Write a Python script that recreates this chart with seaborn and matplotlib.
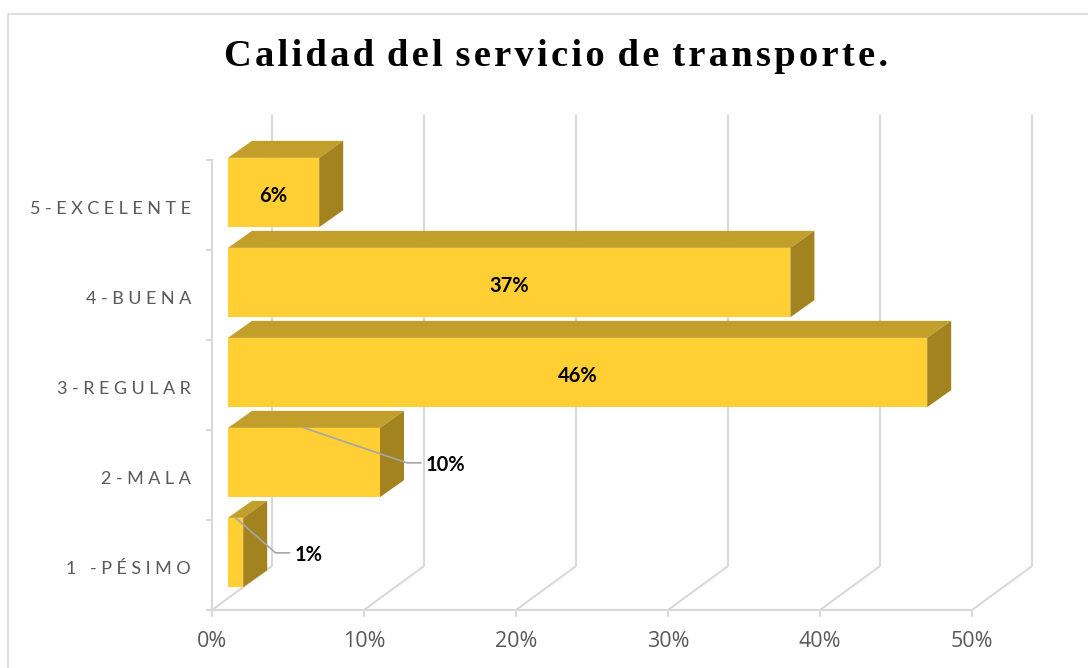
import matplotlib
matplotlib.use('Agg')
import matplotlib.pyplot as plt
from matplotlib.lines import Line2D
from matplotlib.patches import Polygon
from matplotlib.transforms import Affine2D, IdentityTransform
import pandas as pd
import seaborn as sns

# datos
categorias = ['5-EXCELENTE', '4-BUENA', '3-REGULAR', '2-MALA', '1 -PÉSIMO']
valores = [6, 37, 46, 10, 1]
ticks_x = [0, 10, 20, 30, 40, 50]
titulo = 'Calidad del servicio de transporte.'

W, H = 1088, 668
GRIS = '#D9D9D9'
FRENTE, ARRIBA, LADO = '#FFCF33', '#C19F2A', '#A38220'
HAIR = '\u200a'
THIN = '\u2009'
saltos = {10: 103, 1: 40}  # lineas guia de las etiquetas fuera de barra

sns.set_theme(style='white')
plt.rcParams['font.family'] = ['Open Sans', 'DejaVu Sans']

fig = plt.figure(figsize=(W / 100, H / 100), dpi=100)
ax = fig.add_axes([212 / W, (H - 610) / H, 760 / W, 450 / H])

df = pd.DataFrame({'categoria': categorias, 'valor': valores})
sns.barplot(data=df, y='categoria', x='valor', order=categorias, width=0.77,
            color=FRENTE, saturation=1, linewidth=0, ax=ax, zorder=5)
ax.set_xlim(0, 50)
ax.set_ylim(4.5, -0.5)
ax.set_xlabel('')
ax.set_ylabel('')

# ejes
for lado in ['top', 'right']:
    ax.spines[lado].set_visible(False)
for lado in ['left', 'bottom']:
    ax.spines[lado].set_color(GRIS)
    ax.spines[lado].set_linewidth(1.5)

ax.set_xticks(ticks_x)
ax.set_xticklabels([f'{t}%' for t in ticks_x])
ax.tick_params(axis='x', length=5, width=1.5, color=GRIS, labelcolor='#595959',
               labelsize=15.5, pad=10, bottom=True)
ax.set_yticks(range(5))
ax.set_yticklabels([(THIN * 2).join(c) for c in categorias], family=['Lato', 'DejaVu Sans'])
ax.tick_params(axis='y', which='major', length=0, labelcolor='#595959', labelsize=13, pad=15)
ax.set_yticks([i - 0.5 for i in range(6)], minor=True)
ax.tick_params(axis='y', which='minor', length=4, width=1.5, color=GRIS, left=True)
for lab in ax.get_yticklabels():
    lab.set_transform(lab.get_transform() + Affine2D().translate(0, -2))

# pared del fondo y piso
fig.canvas.draw()
for t in ticks_x:
    x0, y0 = ax.transData.transform((t, 4.5))
    ax.add_line(Line2D([x0, x0 + 60, x0 + 60], [y0, y0 + 44, y0 + 44 + 451], color=GRIS, lw=1.5,
                       transform=IdentityTransform(), clip_on=False, zorder=1))

# barras con volumen
desp = Affine2D().translate(16, 12.5)
for barra, valor in zip(ax.patches, valores):
    barra.set_transform(ax.transData + desp)
    barra.set_clip_on(False)
    yb = barra.get_y()
    h = barra.get_height()
    (x0, y0) = (ax.transData + desp).transform((0, yb + h))
    (x1, y1) = (ax.transData + desp).transform((valor, yb))
    dx, dy = 24, 17
    ax.add_patch(Polygon([(x0, y1), (x1, y1), (x1 + dx, y1 + dy), (x0 + dx, y1 + dy)], facecolor=ARRIBA,
                         edgecolor='none', transform=IdentityTransform(), clip_on=False, zorder=4))
    ax.add_patch(Polygon([(x1, y0), (x1, y1), (x1 + dx, y1 + dy), (x1 + dx, y0 + dy)], facecolor=LADO,
                         edgecolor='none', transform=IdentityTransform(), clip_on=False, zorder=4))

    # etiquetas de datos
    xc = (x0 + x1) / 2
    yc = (y0 + y1) / 2
    texto = f'{valor}%'
    if valor not in saltos:
        ax.text(xc, yc - 4, texto, transform=IdentityTransform(), ha='center', va='center',
                family=['Lato', 'DejaVu Sans'], fontsize=14.5, fontweight='bold', color='black', zorder=6)
    else:
        salto = saltos[valor]
        ax.add_line(Line2D([xc, xc + salto, xc + salto + 14], [y1, y1 - 35, y1 - 35], color='#A6A6A6', lw=1.2,
                           transform=IdentityTransform(), clip_on=False, zorder=6))
        ax.text(xc + salto + 19, y1 - 37, texto, transform=IdentityTransform(), ha='left', va='center',
                family=['Lato', 'DejaVu Sans'], fontsize=14.5, fontweight='bold', color='black', zorder=6)

# marco del grafico
fig.add_artist(Line2D([8 / W, 8 / W, 1], [0, (H - 14) / H, (H - 14) / H], color=GRIS, lw=1.2))

# titulo con letras separadas
partes = [HAIR.join(p) for p in titulo.split(' ')]
fig.text(556 / W, (H - 57) / H, (HAIR + ' ').join(partes), family='Liberation Serif', fontweight='bold',
         fontsize=27.7, color='black', ha='center', va='center')

fig.savefig('out.png', dpi=100)
